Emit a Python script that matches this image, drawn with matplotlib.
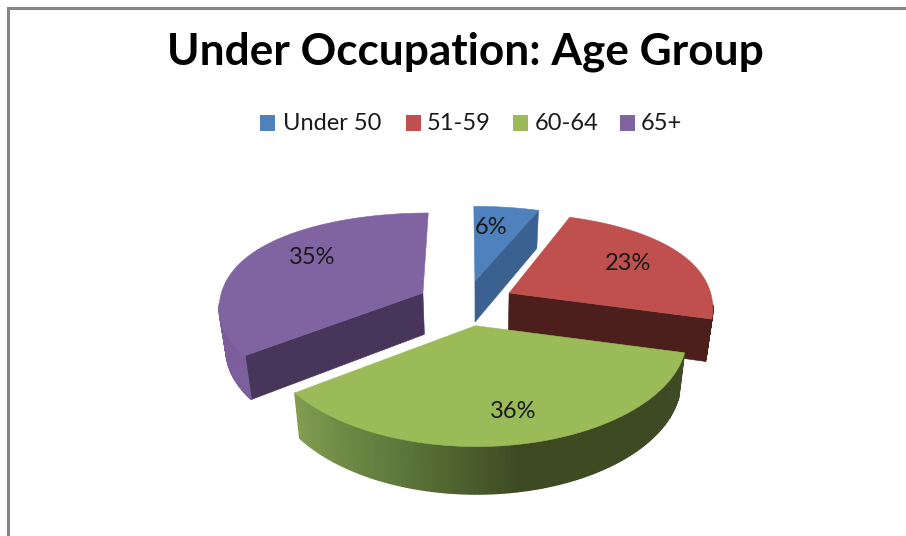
#!/usr/bin/env python3
"""Exploded 3-D style pie chart of under occupation by age group."""

import matplotlib

matplotlib.use("Agg")

import matplotlib.pyplot as plt
import numpy as np
from matplotlib.colors import to_rgb
from matplotlib.patches import Polygon, Rectangle

plt.rcParams["font.family"] = ["Lato", "DejaVu Sans"]

TITLE = "Under Occupation: Age Group"
CATEGORIES = ["Under 50", "51-59", "60-64", "65+"]
SHARES = [6, 23, 36, 35]
LABEL_POS = [(491, 228), (628, 264), (513, 411), (312, 257)]

TOP_COLORS = ["#4F81BD", "#C0504D", "#9BBB59", "#8064A2"]
CUT_COLORS = ["#3A618F", "#4D1F1C", "#3E4A23", "#47355A"]
# rim colour stops, from the start angle of the slice to its end
RIM_COLORS = [
    ["#3A618F", "#3A618F"],
    ["#4D1F1C", "#4D1F1C"],
    ["#3F4B25", "#3D4A22", "#3D4A22", "#5F7A3C", "#829D50"],
    ["#7D5F9E", "#7A5C9A", "#6F5490", "#6F5490"],
]
LEGEND_SQUARES = [260, 406, 513, 620]
LEGEND_TEXT = [283, 427, 535, 641]

EXPLODE_U, EXPLODE_V = 0.24, 0.218
CENTER_X, CENTER_Y = 466.0, 304.0


def project(u, v):
    """Disc coordinates to pixels, the far side is foreshortened."""
    u, v = np.asarray(u, dtype=float), np.asarray(v, dtype=float)
    x = CENTER_X + u * (204 - 25 * v)
    far = 115 * v / (1 + 0.354 * v)
    near = 98 * v - 16 * v * v
    return x, CENTER_Y - np.where(v > 0, far, near)


def drop(x, y):
    """Bottom edge of the pie below a point on the top surface."""
    return x + (478 - x) * 0.027, y + 38 + (y - 209) * 0.04


def slice_outline(start, stop, mid):
    theta = np.radians(np.linspace(start, stop, 120))
    off_u = EXPLODE_U * np.sin(np.radians(mid))
    off_v = EXPLODE_V * np.cos(np.radians(mid))
    rim = project(np.sin(theta) + off_u, np.cos(theta) + off_v)
    apex = project(off_u, off_v)
    return theta, np.column_stack(rim), np.array([float(apex[0]), float(apex[1])])


def quad_below(ax, p, q, color, zorder, lw=0.4):
    bp, bq = drop(*p), drop(*q)
    ax.add_patch(Polygon([p, q, bq, bp], closed=True, fc=color, ec=color, lw=lw, zorder=zorder))


def rim_color(stops, frac):
    rgb = np.array([to_rgb(c) for c in stops])
    pos = np.linspace(0, 1, len(stops))
    return [np.interp(frac, pos, rgb[:, i]) for i in range(3)]


fig = plt.figure(figsize=(9.06, 5.36), dpi=100)
ax = fig.add_axes([0, 0, 1, 1])
ax.set_xlim(0, 906)
ax.set_ylim(536, 0)
ax.axis("off")

ax.plot([8, 8, 906], [536, 8, 8], color="#868686", lw=2.2, solid_joinstyle="miter")

ax.text(465.5, 52, TITLE, ha="center", va="center", fontsize=31.8, fontweight="bold", color="black")

for left, tx, name, color in zip(LEGEND_SQUARES, LEGEND_TEXT, CATEGORIES, TOP_COLORS):
    ax.add_patch(Rectangle((left, 115), 15, 16, fc=color, ec="none"))
    ax.text(tx, 123, name, ha="left", va="center", fontsize=17, color="#1a1a1a")

# angles run clockwise from twelve o'clock, back slices are painted first
edges = np.concatenate([[0], np.cumsum(SHARES)]) * 3.6
for order, i in enumerate([0, 1, 3, 2]):
    start, stop = edges[i], edges[i + 1]
    mid = (start + stop) / 2
    theta, rim, apex = slice_outline(start, stop, mid)
    base = 3 + order * 3

    # cut faces show only when the slice lies above them on the screen
    inner = rim[len(rim) // 2]
    for end in (rim[0], rim[-1]):
        line_y = apex[1] + (end[1] - apex[1]) * (inner[0] - apex[0]) / (end[0] - apex[0] + 1e-6)
        if inner[1] < line_y and abs(end[0] - apex[0]) > 10:
            quad_below(ax, tuple(apex), tuple(end), CUT_COLORS[i], base)

    # only the part of the rim facing the viewer is drawn
    for k in range(len(rim) - 1):
        if np.cos(theta[k]) < -0.1:
            color = rim_color(RIM_COLORS[i], k / (len(rim) - 2))
            quad_below(ax, tuple(rim[k]), tuple(rim[k + 1]), color, base + 1, lw=1.0)

    top = np.vstack([apex, rim])
    ax.add_patch(Polygon(top, closed=True, fc=TOP_COLORS[i], ec=TOP_COLORS[i], lw=0.4, zorder=base + 2))

for share, (x, y) in zip(SHARES, LABEL_POS):
    ax.text(x, y, f"{share}%", ha="center", va="center", fontsize=17, color="#1a1a1a", zorder=20)

fig.savefig("out.png", dpi=100)
plt.close(fig)
